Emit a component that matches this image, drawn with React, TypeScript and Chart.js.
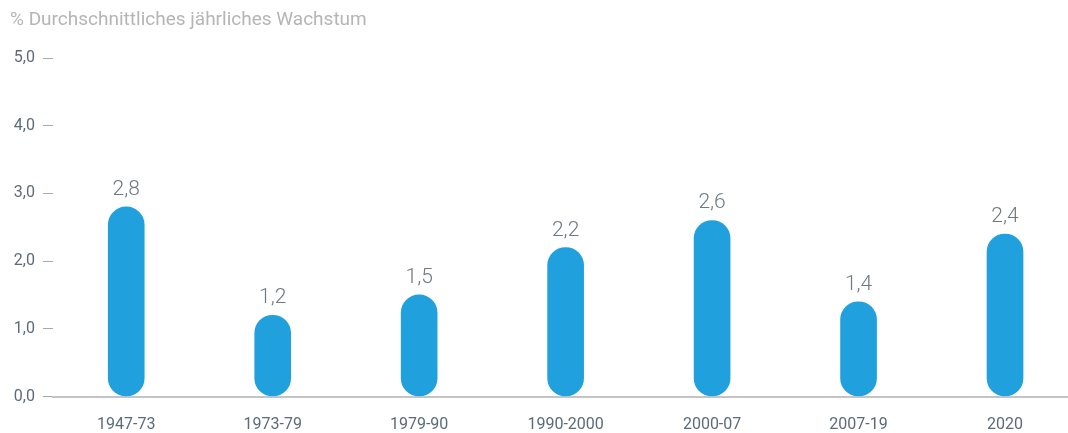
import React, { useEffect, useRef } from "react";
import { Chart, registerables } from "chart.js";

Chart.register(...registerables);

// Average annual growth per period (percent)
const periods = ["1947-73", "1973-79", "1979-90", "1990-2000", "2000-07", "2007-19", "2020"];
const growth = [2.8, 1.2, 1.5, 2.2, 2.6, 1.4, 2.4];
const yTicks = [0, 1, 2, 3, 4, 5];
const titleText = "% Durchschnittliches jährliches Wachstum";

const fmt = (v: number) => v.toFixed(1).replace(".", ",");

const FONT = "Roboto, 'Open Sans', sans-serif";
const BAR_COLOR = "#20a1dd";
const TICK_COLOR = "#5c6b78";
const VALUE_COLOR = "#6f7881";
const TITLE_COLOR = "#b5b5b5";

// Values above each capsule bar and the heading in the top-left corner
const overlayPlugin = {
  id: "overlay",
  afterDatasetsDraw(chart: any) {
    const ctx = chart.ctx;
    const meta = chart.getDatasetMeta(0);
    ctx.save();
    ctx.fillStyle = VALUE_COLOR;
    ctx.font = `300 21px ${FONT}`;
    ctx.textAlign = "center";
    ctx.textBaseline = "alphabetic";
    meta.data.forEach((bar: any, i: number) => {
      ctx.fillText(fmt(growth[i]), bar.x, bar.y - 12);
    });
    ctx.fillStyle = TITLE_COLOR;
    ctx.font = `19px ${FONT}`;
    ctx.textAlign = "left";
    ctx.textBaseline = "middle";
    ctx.fillText(titleText, 10, 20);
    ctx.restore();
  },
};

export default function App() {
  const canvasRef = useRef<HTMLCanvasElement | null>(null);

  useEffect(() => {
    if (!canvasRef.current) return;
    const chart = new Chart(canvasRef.current, {
      type: "bar",
      data: {
        datasets: [
          {
            data: growth.map((v, i) => ({ x: i, y: v })),
            backgroundColor: BAR_COLOR,
            borderWidth: 0,
            borderRadius: 18,
            borderSkipped: false,
            barThickness: 36,
          },
        ],
      },
      options: {
        responsive: false,
        animation: false,
        layout: { padding: { top: 58, right: 0, bottom: 0, left: 0 } },
        plugins: {
          legend: { display: false },
          tooltip: { enabled: false },
          title: { display: false },
        },
        scales: {
          x: {
            type: "linear",
            offset: false,
            min: -0.5,
            max: 6.43,
            afterBuildTicks: (scale: any) => {
              scale.ticks = periods.map((_, i) => ({ value: i }));
            },
            afterFit: (scale: any) => {
              scale.height = 36.5;
            },
            grid: { display: false, drawTicks: false },
            border: { display: true, color: "#c4c4c4", width: 2 },
            ticks: {
              padding: 19,
              color: TICK_COLOR,
              font: { family: FONT, size: 16 },
              maxRotation: 0,
              autoSkip: false,
              callback: (v: any) => periods[v as number] ?? "",
            },
          },
          y: {
            min: 0,
            max: 5,
            afterBuildTicks: (scale: any) => {
              scale.ticks = yTicks.map((v) => ({ value: v }));
            },
            afterFit: (scale: any) => {
              scale.width = 53;
            },
            grid: {
              drawOnChartArea: false,
              drawTicks: true,
              tickLength: 10,
              color: "#a8a8a8",
              lineWidth: 1,
            },
            border: { display: false },
            ticks: {
              padding: 8,
              color: TICK_COLOR,
              font: { family: FONT, size: 16 },
              callback: (v: any) => fmt(Number(v)),
            },
          },
        },
      },
      plugins: [overlayPlugin],
    });
    return () => chart.destroy();
  }, []);

  return (
    <div style={{ position: "absolute", left: 0, top: 0, width: 1068, height: 433, background: "#fff" }}>
      <canvas ref={canvasRef} width={1068} height={433} style={{ width: 1068, height: 433, display: "block" }} />
    </div>
  );
}
